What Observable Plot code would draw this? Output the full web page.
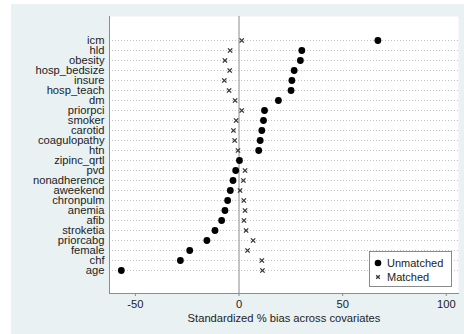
<!DOCTYPE html>
<html>
<head>
<meta charset="utf-8">
<script src="https://cdn.jsdelivr.net/npm/d3@7"></script>
<script src="https://cdn.jsdelivr.net/npm/@observablehq/plot@0.6"></script>
<style>
  html, body { margin: 0; padding: 0; background: #ffffff; }
  #page { position: relative; width: 464px; height: 334px; overflow: hidden; }
  #panel { position: absolute; left: 11px; top: 4px; width: 453px; height: 330px; background: #eaf1f3; }
  #legend {
    position: absolute; left: 369px; top: 251px; width: 83px; height: 36px;
    background: #fff; border: 1px solid #8a8a8a; box-sizing: border-box;
    font: 11px "Liberation Sans", Arial, sans-serif; color: #222;
  }
  #legend .row { position: absolute; left: 0; height: 14px; line-height: 14px; }
  #legend svg { position: absolute; left: 3px; top: 2px; }
  #legend span { position: absolute; left: 17px; white-space: nowrap; }
</style>
</head>
<body>
<div id="page">
  <div id="panel"></div>
  <div id="legend">
    <div class="row" style="top:4px">
      <svg width="10" height="10"><circle cx="5" cy="5" r="3.3" fill="#000"/></svg>
      <span>Unmatched</span>
    </div>
    <div class="row" style="top:18px">
      <svg width="10" height="10"><path d="M3.2 3.2L6.8 6.8M6.8 3.2L3.2 6.8" stroke="#333" stroke-width="1.3"/></svg>
      <span>Matched</span>
    </div>
  </div>
</div>
<script>
// Covariates, ordered by standardized % bias before matching
const covariates = [
  "icm", "hld", "obesity", "hosp_bedsize", "insure", "hosp_teach", "dm",
  "priorpci", "smoker", "carotid", "coagulopathy", "htn", "zipinc_qrtl",
  "pvd", "nonadherence", "aweekend", "chronpulm", "anemia", "afib",
  "stroketia", "priorcabg", "female", "chf", "age"
];
// Standardized % bias in the unmatched sample
const biasUnmatched = [
  67, 30.3, 29.6, 26.6, 25.5, 25.1, 19,
  12.3, 11.8, 11, 10.2, 9.5, 0.2,
  -1.6, -2.9, -4.2, -5.5, -6.8, -8.4,
  -11.6, -15.5, -23.8, -28.3, -56.8
];
// Standardized % bias in the matched sample
const biasMatched = [
  1.3, -4.3, -6.8, -4.5, -7.1, -4.8, -1.9,
  1.3, -1.4, -2.7, -2.1, -0.5, 0.4,
  2.9, 2.1, 0.5, 2.3, 2.9, 2.4,
  3.4, 6.8, 4.1, 11, 11.3
];
const xTicks = [-50, 0, 50, 100];
const xTitle = "Standardized % bias across covariates";

const unmatched = covariates.map((c, i) => ({covariate: c, bias: biasUnmatched[i]}));
const matched = covariates.map((c, i) => ({covariate: c, bias: biasMatched[i]}));

const chart = Plot.plot({
  width: 453,
  height: 330,
  marginLeft: 98,
  marginRight: 6,
  marginTop: 12,
  marginBottom: 41,
  style: {
    background: "transparent",
    fontFamily: "'Liberation Sans', Arial, sans-serif",
    fontSize: "11.2px",
    color: "#222"
  },
  x: {domain: [-62.5, 105.9]},
  y: {type: "point", domain: covariates, padding: 1.58},
  marks: [
    Plot.frame({fill: "#fff", stroke: null}),
    // dotted row guides
    Plot.ruleY(covariates, {y: d => d, stroke: "#c2c2c2", strokeDasharray: "1,2", strokeWidth: 1, shapeRendering: "crispEdges"}),
    Plot.ruleX([0], {stroke: "#8c8c8c", strokeWidth: 1}),
    Plot.frame({anchor: "left", stroke: "#8c8c8c"}),
    Plot.frame({anchor: "bottom", stroke: "#8c8c8c"}),
    Plot.axisY({tickSize: 0, tickPadding: 5, label: null, fill: "#222"}),
    Plot.axisX({
      ticks: xTicks, tickFormat: d => String(d), tickSize: 3, tickPadding: 4,
      stroke: "#8c8c8c", fill: "#222",
      label: xTitle, labelAnchor: "center", labelArrow: "none", labelOffset: 28
    }),
    Plot.dot(matched, {x: "bias", y: "covariate", symbol: "times", r: 2.1, stroke: "#333", strokeWidth: 1.3}),
    Plot.dot(unmatched, {x: "bias", y: "covariate", r: 3.4, fill: "#000", stroke: null})
  ]
});
document.getElementById("panel").appendChild(chart);
</script>
</body>
</html>
